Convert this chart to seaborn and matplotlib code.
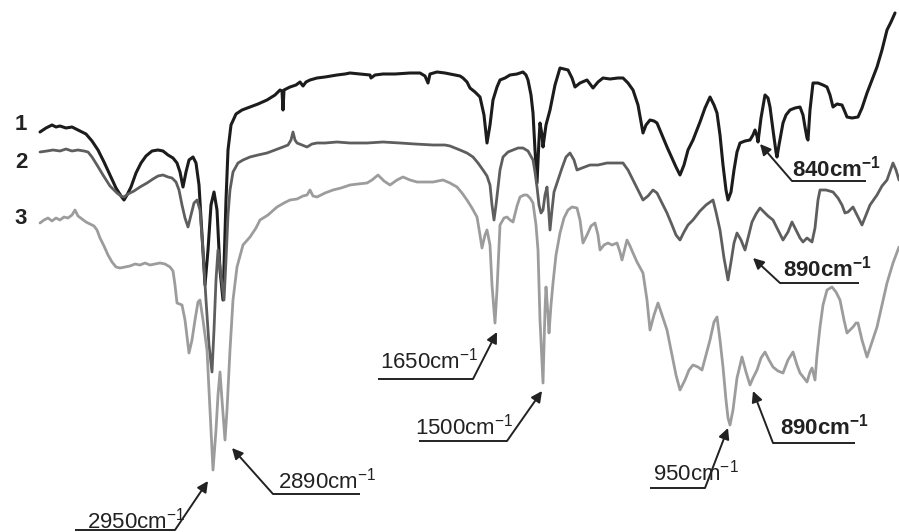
import numpy as np
import pandas as pd
import matplotlib
matplotlib.use("Agg")
import matplotlib.pyplot as plt
import seaborn as sns

# traces: x = horizontal position, y = vertical position (pixels, top = 0)
x1 = [40, 46, 52, 56, 60, 66, 72, 80, 86, 92, 98, 104, 110, 116, 121, 124, 127, 131, 136, 141,
      146, 152, 158, 163, 168, 173, 177, 180, 183, 186, 189, 193, 196, 199, 202, 205, 208, 211, 214, 217,
      220, 223, 226, 228, 231, 236, 242, 250, 258, 267, 275, 280, 282, 283, 284, 290, 296, 300, 303, 306,
      310, 317, 325, 337, 345, 350, 360, 370, 371, 375, 383, 395, 410, 420, 425, 428, 430, 437, 445, 450,
      455, 460, 463, 467, 470, 475, 480, 484, 487, 490, 493, 497, 500, 505, 510, 517, 523, 526, 528, 531,
      533, 535, 537, 539, 540, 542, 543, 546, 550, 555, 560, 564, 568, 572, 575, 580, 587, 593, 598, 603,
      610, 618, 623, 628, 633, 638, 643, 646, 650, 654, 657, 662, 667, 672, 676, 680, 684, 688, 693, 700,
      705, 710, 714, 717, 720, 723, 726, 728, 731, 734, 737, 740, 745, 750, 753, 755, 757, 758, 761, 765,
      768, 770, 773, 776, 777, 779, 783, 786, 790, 795, 800, 803, 805, 807, 808, 810, 813, 818, 823, 827,
      830, 833, 837, 842, 845, 847, 852, 858, 862, 867, 872, 877, 882, 887, 891, 895]
t1 = [132, 128, 125, 127, 126, 128, 127, 131, 134, 141, 150, 162, 175, 188, 196, 200, 195, 187, 173, 163,
      156, 151, 150, 151, 155, 158, 163, 172, 187, 172, 160, 157, 163, 185, 235, 285, 250, 205, 192, 210,
      270, 300, 200, 150, 125, 114, 110, 107, 104, 100, 95, 90, 91, 110, 90, 87, 85, 82, 86, 82,
      80, 78, 77, 75, 74, 73, 74, 75, 78, 75, 74, 74, 73, 73, 76, 83, 74, 72, 73, 74,
      75, 76, 78, 82, 88, 92, 97, 115, 143, 125, 100, 87, 80, 78, 75, 74, 72, 75, 80, 95,
      113, 150, 183, 140, 123, 135, 147, 125, 110, 85, 68, 69, 70, 78, 87, 83, 80, 88, 82, 78,
      79, 78, 78, 83, 90, 105, 133, 125, 120, 121, 123, 135, 147, 158, 167, 175, 165, 150, 140, 122,
      108, 97, 105, 113, 135, 165, 190, 200, 192, 170, 152, 143, 141, 140, 135, 130, 136, 142, 118, 95,
      98, 107, 130, 152, 157, 145, 123, 115, 110, 108, 107, 115, 127, 138, 140, 110, 83, 83, 85, 87,
      95, 107, 104, 105, 112, 117, 118, 117, 108, 93, 80, 67, 50, 30, 22, 13]

x2 = [40, 47, 53, 60, 66, 72, 78, 84, 88, 92, 97, 103, 110, 117, 121, 124, 128, 134, 140, 147,
      153, 158, 163, 168, 172, 176, 179, 182, 185, 188, 191, 194, 197, 200, 203, 206, 209, 212, 214, 216,
      218, 221, 224, 226, 228, 230, 233, 238, 243, 250, 258, 267, 275, 283, 288, 291, 293, 295, 297, 302,
      307, 312, 317, 325, 337, 350, 367, 383, 400, 415, 433, 445, 450, 455, 460, 467, 473, 478, 483, 487,
      490, 492, 494, 496, 498, 500, 503, 508, 513, 518, 523, 528, 533, 535, 537, 539, 541, 543, 545, 547,
      548, 550, 552, 554, 557, 562, 566, 570, 574, 577, 582, 590, 598, 607, 615, 623, 628, 633, 638, 643,
      648, 653, 657, 662, 667, 672, 676, 680, 684, 688, 693, 700, 706, 713, 716, 720, 724, 728, 731, 734,
      737, 741, 745, 748, 752, 756, 760, 764, 768, 773, 778, 783, 788, 792, 796, 800, 803, 807, 812, 815,
      818, 820, 826, 833, 838, 842, 845, 848, 850, 853, 857, 862, 866, 870, 877, 882, 887, 893, 896, 899]
t2 = [152, 151, 150, 151, 149, 151, 150, 151, 152, 157, 165, 175, 186, 193, 196, 197, 194, 191, 187, 183,
      179, 176, 175, 177, 178, 182, 190, 205, 218, 227, 215, 203, 200, 210, 250, 300, 345, 372, 330, 280,
      250, 275, 300, 260, 215, 190, 172, 163, 160, 157, 155, 153, 150, 147, 145, 140, 132, 140, 143, 145,
      147, 144, 143, 143, 142, 143, 143, 142, 143, 144, 145, 145, 146, 148, 150, 153, 157, 163, 170, 176,
      185, 205, 220, 205, 187, 170, 157, 152, 150, 148, 148, 151, 160, 172, 187, 205, 213, 210, 195, 187,
      200, 230, 210, 192, 183, 168, 157, 153, 160, 170, 168, 165, 165, 163, 163, 163, 170, 180, 190, 200,
      196, 190, 193, 203, 213, 225, 235, 240, 232, 225, 220, 211, 205, 200, 212, 230, 258, 280, 262, 243,
      233, 240, 250, 238, 222, 214, 208, 212, 216, 220, 230, 240, 232, 222, 230, 238, 242, 238, 242, 228,
      200, 190, 190, 192, 198, 205, 213, 212, 210, 207, 215, 225, 215, 205, 195, 186, 180, 163, 170, 180]

x3 = [40, 44, 48, 52, 56, 60, 64, 68, 72, 75, 78, 82, 86, 90, 94, 97, 100, 104, 108, 112,
      116, 120, 125, 130, 135, 140, 145, 150, 155, 160, 165, 170, 173, 175, 177, 182, 185, 189, 192, 195,
      198, 200, 203, 207, 210, 213, 216, 218, 220, 222, 225, 227, 230, 233, 237, 243, 250, 256, 260, 268,
      277, 284, 290, 297, 303, 307, 310, 313, 317, 325, 333, 341, 350, 358, 367, 372, 378, 384, 390, 397,
      403, 410, 417, 425, 433, 438, 443, 450, 457, 462, 467, 472, 477, 480, 482, 485, 487, 490, 492, 495,
      497, 500, 504, 507, 510, 513, 517, 520, 524, 527, 530, 533, 536, 538, 540, 543, 545, 546, 548, 549,
      551, 553, 556, 560, 564, 568, 572, 577, 580, 583, 587, 591, 595, 598, 600, 604, 608, 612, 617, 620,
      622, 625, 627, 630, 633, 637, 643, 647, 650, 654, 658, 662, 667, 672, 676, 680, 685, 689, 693, 698,
      702, 706, 710, 714, 717, 720, 723, 726, 728, 730, 733, 737, 742, 746, 750, 753, 757, 761, 765, 769,
      773, 778, 783, 788, 793, 797, 800, 804, 807, 810, 812, 814, 815, 817, 820, 823, 827, 832, 836, 840,
      844, 847, 850, 853, 856, 858, 862, 867, 871, 877, 882, 887, 893, 899]
t3 = [223, 220, 218, 221, 218, 220, 217, 218, 215, 210, 216, 219, 222, 224, 226, 230, 238, 246, 255, 262,
      267, 268, 267, 266, 264, 265, 263, 265, 264, 263, 264, 267, 271, 285, 303, 305, 320, 353, 340, 320,
      302, 300, 320, 350, 410, 470, 430, 395, 372, 400, 440, 410, 350, 300, 267, 245, 237, 228, 220, 215,
      207, 203, 200, 199, 196, 195, 190, 196, 197, 193, 190, 188, 185, 184, 183, 180, 175, 181, 185, 180,
      177, 180, 182, 182, 182, 181, 180, 183, 187, 193, 200, 208, 217, 235, 248, 235, 230, 245, 285, 323,
      290, 225, 218, 217, 220, 222, 206, 197, 195, 195, 198, 203, 225, 250, 320, 383, 310, 287, 315, 333,
      305, 283, 255, 233, 218, 210, 207, 208, 220, 243, 235, 226, 223, 235, 250, 245, 243, 245, 243, 252,
      260, 248, 240, 246, 253, 262, 273, 300, 330, 315, 303, 315, 330, 355, 375, 390, 380, 370, 365, 367,
      370, 355, 340, 322, 317, 340, 367, 400, 418, 425, 410, 378, 357, 372, 385, 378, 370, 358, 352, 360,
      367, 371, 373, 360, 352, 365, 373, 378, 382, 372, 368, 376, 380, 355, 327, 305, 290, 287, 292, 300,
      320, 333, 330, 327, 323, 323, 340, 357, 345, 327, 305, 283, 263, 247]

trace_names = ["1", "2", "3"]
trace_colors = ["#1c1c1c", "#5e5e5e", "#9c9c9c"]
trace_label_y = [125, 162, 218]

# band annotations: label, bold?, text x, baseline y, underline (x0, x1, y), arrow tip
peak_labels = ["840", "890", "1650", "1500", "2950", "2890", "950", "890"]
peak_bold = [True, True, False, False, False, False, False, True]
text_xy = [(792, 177), (783, 277), (380, 368), (415, 434), (87, 528), (278, 488), (653, 481), (780, 435)]
underline = [(792, 866, 181), (780, 859, 283), (378, 473, 379), (419, 507, 441),
             (75, 175, 530), (273, 360, 494), (650, 705, 488), (773, 855, 443)]
arrow_from = ["left", "left", "right", "right", "right", "left", "right", "left"]
arrow_tip = [(760, 144), (753, 258), (497, 332), (542, 391), (208, 481), (232, 448), (728, 428), (753, 391)]

sns.set_style("white")
plt.rcParams["font.family"] = ["Liberation Sans", "DejaVu Sans"]
plt.rcParams["mathtext.fontset"] = "custom"
plt.rcParams["mathtext.rm"] = "Liberation Sans"
plt.rcParams["mathtext.default"] = "regular"

fig = plt.figure(figsize=(8.99, 5.32), dpi=100)
ax = fig.add_axes([0, 0, 1, 1])

for xs, ts, name, col, lw in zip([x1, x2, x3], [t1, t2, t3], trace_names, trace_colors, [2.2, 2.0, 2.0]):
    df = pd.DataFrame({"x": xs, "t": ts})
    sns.lineplot(data=df, x="x", y="t", ax=ax, color=col, lw=lw, estimator=None, sort=False)

for name, ly in zip(trace_names, trace_label_y):
    ax.text(21, ly, name, fontsize=16, fontweight="bold", color="#222222", ha="center", va="center")

ink = "#222222"
for lab, bold, (tx, ty), (u0, u1, uy), side, tip in zip(peak_labels, peak_bold, text_xy, underline,
                                                         arrow_from, arrow_tip):
    ax.text(tx, ty, lab + "cm$^{-1}$", fontsize=16, fontweight="bold" if bold else "normal",
            color=ink, ha="left", va="baseline")
    ax.plot([u0, u1], [uy, uy], color=ink, lw=1.4, solid_capstyle="butt")
    start = (u0, uy) if side == "left" else (u1, uy)
    ax.annotate("", xy=tip, xytext=start,
                arrowprops=dict(arrowstyle="-|>", color=ink, lw=1.4, mutation_scale=16,
                                shrinkA=0, shrinkB=0))

ax.set_xlim(0, 899)
ax.set_ylim(532, 0)
ax.axis("off")
ax.legend_ = None
fig.savefig("out.png", dpi=100, facecolor="white")
